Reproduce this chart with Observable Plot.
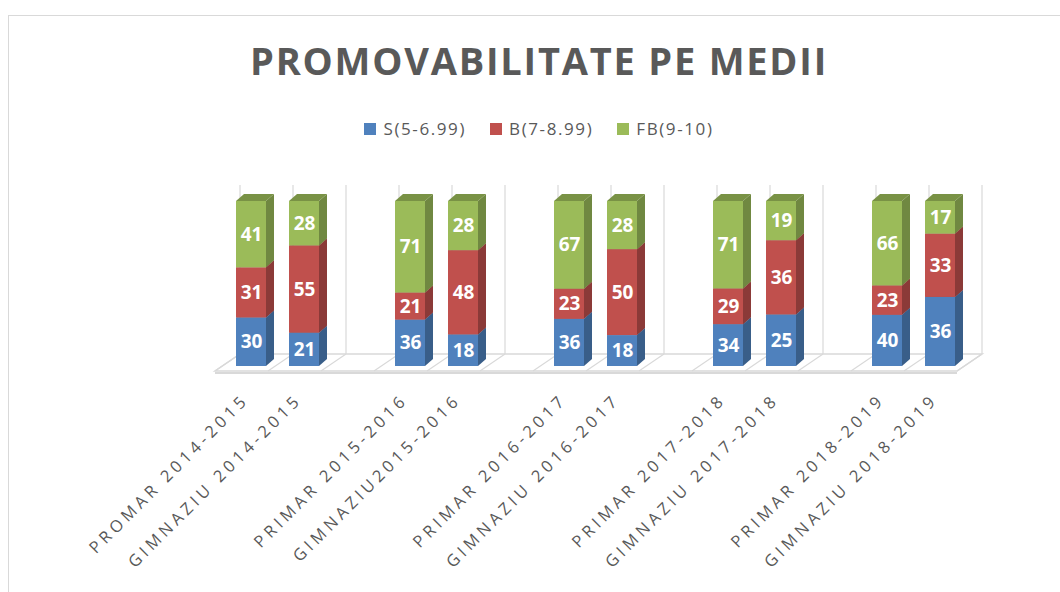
<!DOCTYPE html>
<html>
<head>
<meta charset="utf-8">
<script src="https://cdn.jsdelivr.net/npm/d3@7"></script>
<script src="https://cdn.jsdelivr.net/npm/@observablehq/plot@0.6"></script>
<style>
  html, body { margin: 0; padding: 0; background: #fff; }
  body { width: 1060px; height: 592px; overflow: hidden; position: relative; font-family: "Open Sans", sans-serif; }
  #frame { position: absolute; left: 8px; top: 15px; width: 1100px; height: 700px; border: 1px solid #d9d9d9; box-sizing: border-box; }
  #title { position: absolute; left: 0; width: 1078px; top: 41px; text-align: center; font-weight: 700; font-size: 38px; line-height: 1; color: #595959; white-space: nowrap; }
  #title span { display: inline-block; }
  #legend { position: absolute; left: 0; width: 1078px; top: 120px; display: flex; justify-content: center; align-items: center; font-size: 17px; line-height: 1; color: #595959; letter-spacing: 1.6px; }
  #legend .it { display: flex; align-items: center; margin: 0 12px; }
  #legend i { display: inline-block; width: 12px; height: 12px; margin-right: 7px; }
  #chart { position: absolute; left: 0; top: 150px; }
</style>
</head>
<body>
<div id="frame"></div>
<div id="title"><span id="titletext">PROMOVABILITATE PE MEDII</span></div>
<div id="legend"></div>
<div id="chart"></div>
<script>
// ---- data ----
const categories = [
  "PROMAR 2014-2015", "GIMNAZIU 2014-2015",
  "PRIMAR 2015-2016", "GIMNAZIU2015-2016",
  "PRIMAR 2016-2017", "GIMNAZIU 2016-2017",
  "PRIMAR 2017-2018", "GIMNAZIU 2017-2018",
  "PRIMAR 2018-2019", "GIMNAZIU 2018-2019"
];
const seriesNames = ["S(5-6.99)", "B(7-8.99)", "FB(9-10)"];
const sValues  = [30, 21, 36, 18, 36, 18, 34, 25, 40, 36];
const bValues  = [31, 55, 21, 48, 23, 50, 29, 36, 23, 33];
const fbValues = [41, 28, 71, 28, 67, 28, 71, 19, 66, 17];
const seriesColors = ["#4f81bd", "#c0504d", "#9bbb59"];

// x domain: pairs separated by an empty slot
const blanks = [" ", "  ", "   ", "    "];
const slotDomain = [];
categories.forEach((c, i) => {
  slotDomain.push(c);
  if (i % 2 === 1 && i < categories.length - 1) slotDomain.push(blanks[(i - 1) / 2]);
});

const allValues = [sValues, bValues, fbValues];
const rows = seriesNames.flatMap((s, si) =>
  categories.map((c, i) => ({cat: c, series: s, value: allValues[si][i]})));

// ---- title fit ----
const tt = document.getElementById("titletext");
const w0 = tt.getBoundingClientRect().width;
const ls = (578 - w0) / 24;
tt.style.letterSpacing = ls + "px";

// ---- legend ----
const leg = document.getElementById("legend");
seriesNames.forEach((s, i) => {
  const it = document.createElement("span");
  it.className = "it";
  it.innerHTML = `<i style="background:${seriesColors[i]}"></i>${s}`;
  leg.appendChild(it);
});

// ---- 3D bar faces ----
const DX = 8, DY = 7;
const NS = "http://www.w3.org/2000/svg";
function bar3d(index, scales, values, dims, context, next) {
  const g = next(index, scales, values, dims, context);
  const rects = Array.from(g.querySelectorAll("rect"));
  for (const r of rects) {
    const x = +r.getAttribute("x"), y = +r.getAttribute("y");
    const w = +r.getAttribute("width"), h = +r.getAttribute("height");
    const c = d3.color(r.getAttribute("fill"));
    const side = document.createElementNS(NS, "polygon");
    side.setAttribute("points", [[x + w, y + h], [x + w + DX, y + h - DY], [x + w + DX, y - DY], [x + w, y]].map(p => p.join(",")).join(" "));
    side.setAttribute("fill", c.darker(0.9).formatHex());
    const top = document.createElementNS(NS, "polygon");
    top.setAttribute("points", [[x, y], [x + DX, y - DY], [x + w + DX, y - DY], [x + w, y]].map(p => p.join(",")).join(" "));
    top.setAttribute("fill", c.darker(0.7).formatHex());
    r.after(side, top);
  }
  return g;
}

function spaced(n) {
  return (index, scales, values, dims, context, next) => {
    const g = next(index, scales, values, dims, context);
    g.setAttribute("letter-spacing", n);
    return g;
  };
}

const plot = Plot.plot({
  width: 1060,
  height: 442,
  marginTop: 51,
  marginBottom: 226,
  marginLeft: 223,
  marginRight: 92,
  style: {fontFamily: "'Open Sans', sans-serif", background: "transparent", overflow: "visible"},
  x: {domain: slotDomain, paddingInner: 0.434, paddingOuter: 0.217, axis: null},
  y: {domain: [0, 1], axis: null},
  color: {domain: seriesNames, range: seriesColors},
  marks: [
    Plot.barY(rows, Plot.stackY({x: "cat", y: "value", fill: "series", offset: "normalize", render: bar3d})),
    Plot.text(rows, Plot.stackY({x: "cat", y: "value", z: "series", offset: "normalize", text: "value",
      fill: "white", fontWeight: "bold", fontSize: 19})),
    Plot.text(categories, {x: d => d, frameAnchor: "bottom", rotate: -45, textAnchor: "end", lineAnchor: "top",
      dx: -10, dy: 26, fontSize: 16.5, fill: "#595959", render: spaced(4)})
  ]
});

document.getElementById("chart").appendChild(plot);

// ---- floor and back-wall grid (from the x scale) ----
const xs = plot.scale("x");
const x0 = xs.range[0] - DX;
const step = xs.step;
const n = slotDomain.length;
const FY = 221, BY = 204, BDX = 25, GT = 35;
const svg = d3.select(plot);
const deco = svg.insert("g", ":first-child").attr("fill", "none").attr("stroke", "#d9d9d9");
// back wall vertical gridlines
for (let k = 0; k <= n; k++) {
  const bx = x0 + k * step + BDX;
  deco.append("line").attr("x1", bx).attr("x2", bx).attr("y1", BY).attr("y2", GT).attr("stroke-width", 1.2);
}
// floor
deco.append("polygon")
  .attr("points", [[x0, FY], [x0 + n * step, FY], [x0 + n * step + BDX, BY], [x0 + BDX, BY]].map(p => p.join(",")).join(" "))
  .attr("fill", "#fff").attr("stroke-width", 1.5);
deco.append("line").attr("x1", x0).attr("x2", x0 + n * step).attr("y1", FY + 2).attr("y2", FY + 2).attr("stroke-width", 2);
for (let k = 0; k <= n; k++) {
  const fx = x0 + k * step;
  deco.append("line").attr("x1", fx).attr("y1", FY).attr("x2", fx + BDX).attr("y2", BY).attr("stroke-width", 1.2);
}
</script>
</body>
</html>
